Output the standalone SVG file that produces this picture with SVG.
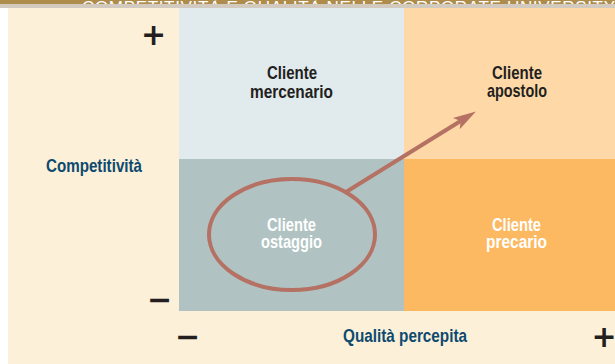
<svg xmlns="http://www.w3.org/2000/svg" width="615" height="364" viewBox="0 0 615 364">
  <defs>
    <clipPath id="bandClip"><rect x="0" y="0" width="615" height="4"/></clipPath>
    <marker id="head" markerUnits="userSpaceOnUse" orient="auto" refX="5" refY="6.5" markerWidth="26" markerHeight="15" overflow="visible">
      <path d="M0,0 L23,6.5 L0,13 L5,6.5 Z" fill="#b57163"/>
    </marker>
  </defs>
  <style>
    .lbl { font-family: "Liberation Sans", Arial, sans-serif; font-weight: bold; font-size: 19px; text-anchor: middle; }
    .dark { fill: #231f20; }
    .white { fill: #ffffff; }
    .axis { font-family: "Liberation Sans", Arial, sans-serif; font-weight: bold; font-size: 19px; fill: #0c4a70; }
    .sign { font-family: "DejaVu Sans", sans-serif; font-weight: bold; font-size: 30px; fill: #231f20; text-anchor: middle; }
    .conn { fill: none; stroke: #b57163; stroke-width: 4; }
  </style>

  <!-- background -->
  <rect x="0" y="0" width="615" height="364" fill="#ffffff"/>
  <rect x="8" y="8" width="607" height="356" fill="#fdf0d9"/>
  <g id="title-band">
    <rect x="0" y="0" width="615" height="4" fill="#ae8c4c"/>
    <text x="82" y="13" clip-path="url(#bandClip)" font-family="Liberation Sans, Arial, sans-serif" font-size="17" fill="#ffffff" textLength="533" lengthAdjust="spacing">COMPETITIVITÀ E QUALITÀ NELLE CORPORATE UNIVERSITY</text>
    <rect x="0" y="4" width="615" height="4" fill="#d2c9bf"/>
  </g>

  <g id="q-mercenario">
    <rect x="179" y="8" width="225" height="151" fill="#e1eaed"/>
    <text class="lbl dark" x="292" y="79" textLength="50" lengthAdjust="spacingAndGlyphs">Cliente</text>
    <text class="lbl dark" x="291.5" y="97.5" textLength="83" lengthAdjust="spacingAndGlyphs">mercenario</text>
  </g>
  <g id="q-apostolo">
    <rect x="404" y="8" width="211" height="151" fill="#fed9a7"/>
    <text class="lbl dark" x="517" y="79" textLength="50" lengthAdjust="spacingAndGlyphs">Cliente</text>
    <text class="lbl dark" x="517" y="97" textLength="60" lengthAdjust="spacingAndGlyphs">apostolo</text>
  </g>
  <g id="q-ostaggio">
    <rect x="179" y="159" width="225" height="152" fill="#b0c3c2"/>
    <text class="lbl white" x="291.5" y="231" textLength="49" lengthAdjust="spacingAndGlyphs">Cliente</text>
    <text class="lbl white" x="291.5" y="248" textLength="61" lengthAdjust="spacingAndGlyphs">ostaggio</text>
  </g>
  <g id="q-precario">
    <rect x="404" y="159" width="211" height="152" fill="#fcb961"/>
    <text class="lbl white" x="516.5" y="231" textLength="49" lengthAdjust="spacingAndGlyphs">Cliente</text>
    <text class="lbl white" x="516.5" y="248" textLength="61" lengthAdjust="spacingAndGlyphs">precario</text>
  </g>

  <g id="highlight">
    <ellipse class="conn" cx="292" cy="234.5" rx="83" ry="55.5"/>
  </g>

  <g id="connectors">
    <line class="conn" x1="346" y1="192" x2="460.6" y2="121" marker-end="url(#head)"/>
  </g>

  <g id="axis-y">
    <text class="axis" x="46" y="172" textLength="96" lengthAdjust="spacingAndGlyphs">Competitività</text>
    <text class="sign" x="153.5" y="44.5">+</text>
    <text class="sign" x="159.5" y="310">−</text>
  </g>
  <g id="axis-x">
    <text class="axis" x="343" y="341.5" textLength="124" lengthAdjust="spacingAndGlyphs">Qualità percepita</text>
    <text class="sign" x="187.5" y="347">−</text>
    <text class="sign" x="604" y="347">+</text>
  </g>
</svg>
